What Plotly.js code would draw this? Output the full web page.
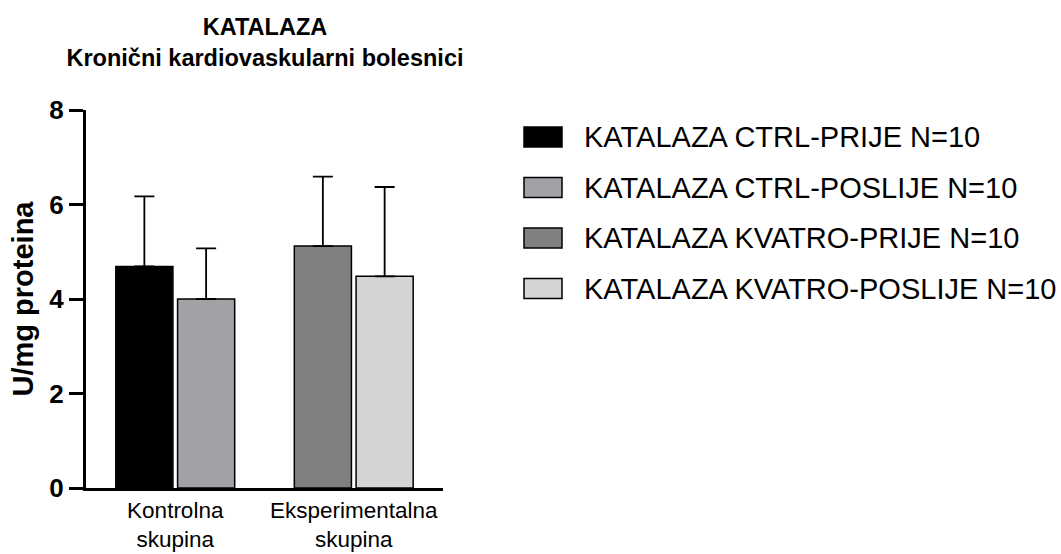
<!DOCTYPE html>
<html>
<head>
<meta charset="utf-8">
<script src="https://cdn.plot.ly/plotly-3.0.1.min.js"></script>
<style>html,body{margin:0;padding:0;background:#fff}#chart{width:1061px;height:554px}</style>
</head>
<body>
<div id="chart"></div>
<script>
// ---- data ----
const categories = ['Kontrolna<br>skupina', 'Eksperimentalna<br>skupina'];
const seriesNames = [
  'KATALAZA CTRL-PRIJE N=10',
  'KATALAZA CTRL-POSLIJE N=10',
  'KATALAZA KVATRO-PRIJE N=10',
  'KATALAZA KVATRO-POSLIJE N=10'
];
const seriesCategory = [categories[0], categories[0], categories[1], categories[1]];
const means = [4.69, 4.00, 5.12, 4.48];
const sdUpper = [1.48, 1.07, 1.47, 1.89];
const yTicks = [0, 2, 4, 6, 8];

// ---- styles ----
const colors = ['#000000', '#a2a2a6', '#808080', '#d4d4d4'];
const slotOffset = [-0.333, 0.013, -0.333, 0.013];
const FONT = 'Liberation Sans, Arial, Helvetica, sans-serif';
const W = 1061, H = 554;
const M = {l: 86, r: 618, t: 110, b: 66};
const pw = W - M.l - M.r, ph = H - M.t - M.b;
const px2paperX = p => (p - M.l) / pw;
const px2paperY = p => (H - M.b - p) / ph;

const traces = seriesNames.map((name, i) => ({
  type: 'bar',
  name: name,
  x: [seriesCategory[i]],
  y: [means[i]],
  width: 0.32,
  offset: slotOffset[i],
  marker: {color: colors[i], line: {color: '#000', width: 1.5}},
  error_y: {type: 'data', symmetric: false, array: [sdUpper[i]], arrayminus: [0],
            color: '#000', thickness: 1.8, width: 10},
  showlegend: false,
  hoverinfo: 'skip'
}));

// custom legend (wide swatches like the original)
const shapes = [], annotations = [];
const legRow0 = 137, legStep = 50.5;
seriesNames.forEach((name, i) => {
  const cy = legRow0 + i * legStep;
  shapes.push({type: 'rect', xref: 'paper', yref: 'paper',
    x0: px2paperX(524), x1: px2paperX(562), y0: px2paperY(cy - 10), y1: px2paperY(cy + 10),
    fillcolor: colors[i], line: {color: '#000', width: 1.5}});
  annotations.push({xref: 'paper', yref: 'paper', x: px2paperX(582), y: px2paperY(cy),
    xanchor: 'left', yanchor: 'middle', showarrow: false, text: name,
    font: {family: FONT, size: 29, color: '#000'}});
});

const layout = {
  width: W, height: H,
  margin: M,
  paper_bgcolor: '#fff', plot_bgcolor: '#fff',
  barmode: 'overlay',
  font: {family: FONT, color: '#000'},
  title: {
    text: 'KATALAZA<br>Kronični kardiovaskularni bolesnici',
    font: {family: FONT, size: 23.5, weight: 'bold', color: '#000'},
    xref: 'container', x: 265 / W, xanchor: 'center',
    yref: 'container', y: 1 - 35 / H, yanchor: 'top'
  },
  xaxis: {
    type: 'category', categoryorder: 'array', categoryarray: categories,
    range: [-0.5, 1.5],
    showline: true, linecolor: '#000', linewidth: 3,
    ticks: '', showgrid: false, zeroline: false,
    tickfont: {family: FONT, size: 22.5, color: '#000'}
  },
  yaxis: {
    range: [0, 8], tickvals: yTicks, ticktext: yTicks.map(String),
    showline: true, linecolor: '#000', linewidth: 3,
    ticks: 'outside', ticklen: 14, tickwidth: 3, tickcolor: '#000',
    showgrid: false, zeroline: false,
    tickfont: {family: FONT, size: 26, weight: 'bold', color: '#000'},
    title: {text: 'U/mg proteina', standoff: 8,
            font: {family: FONT, size: 29, weight: 'bold', color: '#000'}}
  },
  shapes: shapes,
  annotations: annotations
};

Plotly.newPlot('chart', traces, layout, {displayModeBar: false, staticPlot: true});
</script>
</body>
</html>
